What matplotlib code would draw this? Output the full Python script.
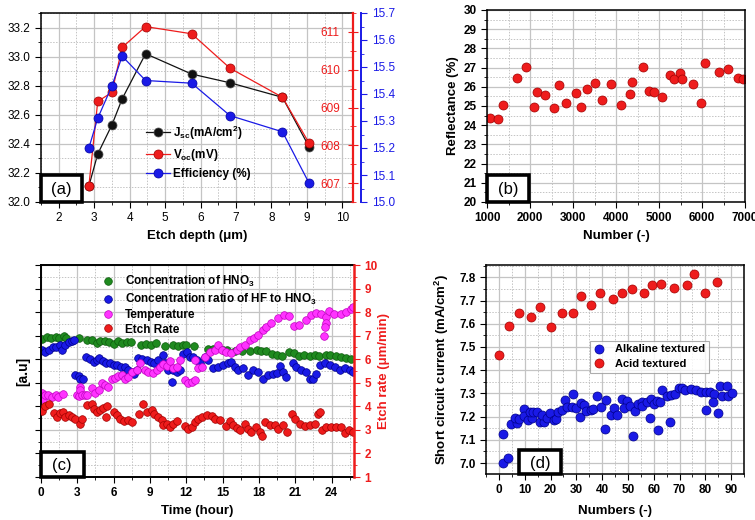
import matplotlib
matplotlib.use("Agg")
import matplotlib.pyplot as plt
from matplotlib.patches import Rectangle
from matplotlib.ticker import MultipleLocator
import numpy as np

plt.rcParams['font.family'] = ['Liberation Sans', 'DejaVu Sans']
plt.rcParams['mathtext.fontset'] = 'custom'
plt.rcParams['mathtext.rm'] = 'Liberation Sans'
plt.rcParams['mathtext.bf'] = 'Liberation Sans:bold'
plt.rcParams['mathtext.default'] = 'bf'

# ---------------- data (a) ----------------
depth = [2.85, 3.1, 3.5, 3.79, 4.45, 5.75, 6.83, 8.31, 9.06]
jsc = [32.11, 32.33, 32.53, 32.71, 33.02, 32.88, 32.82, 32.72, 32.38]
voc = [606.92, 609.16, 609.40, 610.59, 611.14, 610.95, 610.04, 609.27, 608.06]
eff = [15.20, 15.31, 15.43, 15.54, 15.45, 15.44, 15.32, 15.26, 15.07]

# ---------------- data (b) ----------------
number_b = [1077, 1263, 1372, 1689, 1906, 2099, 2161, 2347, 2563, 2680, 2834, 3059,
            3183, 3314, 3500, 3663, 3879, 4111, 4320, 4367, 4622, 4777, 4878, 5063,
            5265, 5350, 5480, 5542, 5798, 5975, 6061, 6393, 6602, 6834, 6942]
reflect = [24.37, 24.33, 25.06, 26.45, 27.04, 24.97, 25.75, 25.55, 24.92, 26.08, 25.15, 25.70,
           24.94, 25.86, 26.22, 25.30, 26.13, 25.06, 25.65, 26.26, 27.05, 25.79, 25.72, 25.49,
           26.64, 26.43, 26.71, 26.43, 26.15, 25.15, 27.23, 26.79, 26.92, 26.48, 26.43]

# ---------------- data (c) ----------------
hno3_t = [0.1, 0.5, 0.8, 1.2, 1.5, 1.9, 2.1, 3.1, 3.8, 4.2, 4.6, 4.9, 5.3, 5.6, 6.0,
          6.4, 6.7, 7.1, 7.4, 8.3, 8.7, 9.1, 9.5, 10.2, 10.9, 11.3, 11.7, 12.0, 12.6, 13.8,
          14.2, 15.0, 15.4, 16.0, 16.6, 17.3, 17.8, 18.2, 18.6, 19.1, 19.5, 19.9, 20.5, 20.9,
          21.3, 21.7, 22.2, 22.6, 23.0, 23.5, 23.9, 24.4, 24.8, 25.2, 25.6]
hno3_v = [6.85, 6.95, 6.88, 6.95, 6.92, 7.0, 6.92, 6.92, 6.8, 6.82, 6.7, 6.78, 6.78, 6.74, 6.65,
          6.78, 6.68, 6.72, 6.72, 6.62, 6.65, 6.6, 6.68, 6.55, 6.6, 6.55, 6.6, 6.6, 6.55, 6.45,
          6.45, 6.4, 6.4, 6.35, 6.35, 6.35, 6.4, 6.35, 6.35, 6.22, 6.2, 6.15, 6.3, 6.28,
          6.15, 6.17, 6.15, 6.18, 6.15, 6.18, 6.2, 6.15, 6.1, 6.05, 6.0]

ratio_t = [0.1, 0.36, 0.63, 0.99, 1.26, 1.54, 1.73, 2.0, 2.28, 2.55, 2.75,
           2.83, 3.1, 3.24, 3.46,
           3.73, 4.06, 4.39, 4.61, 4.83, 5.11, 5.38, 5.71, 5.99, 6.26, 6.59, 6.95, 7.22, 7.50, 7.69,
           7.91, 8.04, 8.32, 8.73, 9.06, 9.34, 9.69, 10.05, 10.24, 10.52, 10.79, 10.93, 11.20, 11.48,
           11.75, 12.03, 12.30, 12.58, 12.85, 13.12, 13.54, 13.81, 14.22, 14.63, 15.05, 15.46, 15.73,
           16.01, 16.28, 16.69, 17.11, 17.52, 17.93, 18.34, 18.75, 19.17, 19.49, 19.71, 19.99, 20.26,
           20.81, 21.09, 21.50, 21.91, 22.19, 22.46, 22.73, 23.06, 23.42, 23.83, 24.24, 24.66, 25.07,
           25.48, 25.75]
ratio_v = [6.39, 6.31, 6.39, 6.50, 6.53, 6.60, 6.41, 6.60, 6.74, 6.78, 6.81,
           5.32, 5.28, 5.18, 5.18,
           6.10, 6.03, 5.89, 5.96, 6.07, 5.93, 5.82, 5.85, 5.75, 5.75, 5.68, 5.65, 5.54, 5.46, 5.37,
           5.54, 6.07, 6.03, 5.96, 5.89, 5.82, 5.96, 6.17, 5.82, 5.54, 5.04, 5.54, 5.46, 5.54,
           6.22, 6.31, 6.10, 6.10, 5.96, 5.82, 6.10, 5.96, 5.61, 5.68, 5.75, 5.82, 5.89,
           5.68, 5.54, 5.61, 5.32, 5.54, 5.46, 5.18, 5.32, 5.39, 5.42, 5.71, 5.46, 5.25,
           5.82, 5.68, 5.54, 5.46, 5.18, 5.18, 5.39, 5.75, 5.82, 5.75, 5.68, 5.54, 5.61,
           5.54, 5.46]

temp_t = [0.1, 0.2, 0.36, 0.6, 0.9, 1.2, 1.43, 1.84,
          3.0, 3.1, 3.2, 3.24, 3.38, 3.65, 3.84,
          4.2, 4.48, 4.75, 5.02, 5.30, 5.57, 5.85, 6.12, 6.40, 6.67, 6.95, 7.22, 7.50, 7.91, 8.18,
          8.59, 8.87, 9.28, 9.56, 9.83, 10.1, 10.38, 10.65, 10.93, 11.2, 11.48, 11.89, 12.16, 12.44,
          12.71, 12.71, 12.99, 13.26, 13.54, 13.95, 14.36, 14.63, 14.91, 15.32, 15.73, 16.15, 16.42,
          16.83, 17.24, 17.6, 17.9, 18.3, 18.6, 19.0, 19.55, 20.1, 20.5, 20.9, 21.3, 21.9, 22.3,
          22.7, 23.1, 23.5, 23.5, 23.45, 23.4, 23.8, 24.2, 24.8, 25.2, 25.6, 25.8]
temp_v = [4.57, 4.30, 4.47, 4.47, 4.40, 4.47, 4.40, 4.51,
          4.47, 4.43, 4.83, 4.68, 4.47, 4.47, 4.47,
          4.76, 4.57, 4.71, 4.97, 4.90, 4.80, 5.18, 5.22, 5.28, 5.32, 5.18, 5.25, 5.46, 5.54, 5.82,
          5.54, 5.46, 5.42, 5.54, 5.68, 5.79, 5.71, 5.93, 5.61, 5.68, 5.96, 5.11, 4.97, 5.04,
          5.11, 5.96, 5.61, 5.68, 6.10, 6.31, 6.39, 6.60, 6.39, 6.31, 6.27, 6.39, 6.53,
          6.60, 6.81, 6.88, 7.02, 7.24, 7.38, 7.52, 7.73, 7.87, 7.83, 7.41, 7.45, 7.66, 7.87,
          7.97, 7.94, 7.80, 7.55, 7.35, 6.98, 8.06, 7.94, 7.94, 8.01, 8.15, 8.20]

etch_t = [0.08, 0.36, 0.63, 1.04, 1.32, 1.54, 1.8, 2.0, 2.28, 2.55, 2.83, 3.19, 3.38,
          3.79, 4.2, 4.39, 4.61, 4.89, 5.16, 5.44, 5.38, 5.99, 6.26, 6.53, 6.86, 7.22, 7.50,
          8.13, 8.40, 8.73, 9.14, 9.34, 9.69, 9.97, 10.1, 10.38, 10.65, 10.93, 11.2,
          11.89, 12.16, 12.44, 12.71, 12.99, 13.26, 13.67, 14.09, 14.36, 14.77,
          15.32, 15.6, 15.87, 16.15, 16.42, 16.83, 17.11, 17.38, 17.79, 18.07, 18.26, 18.48,
          18.89, 19.3, 19.58, 19.99, 20.32, 20.76, 20.95, 21.36, 21.77, 22.19, 22.6, 22.87,
          23.06, 23.23, 23.56, 23.97, 24.38, 24.79, 25.07, 25.43, 25.75]
etch_v = [3.79, 4.0, 4.09, 3.72, 3.55, 3.72, 3.76, 3.55, 3.62, 3.55, 3.48, 3.27, 3.48,
          4.05, 4.12, 3.9, 3.76, 3.83, 3.95, 4.0, 3.55, 3.76, 3.62, 3.48, 3.38, 3.41, 3.34,
          3.69, 4.12, 3.76, 3.83, 3.66, 3.55, 3.41, 3.20, 3.27, 3.13, 3.24, 3.38,
          3.15, 3.05, 3.13, 3.34, 3.48, 3.55, 3.62, 3.59, 3.48, 3.41,
          3.15, 3.38, 3.2, 3.1, 2.98, 3.27, 3.05, 2.91, 3.13, 2.91, 2.73, 3.34,
          3.2, 3.2, 3.05, 3.2, 2.91, 3.69, 3.48, 3.24, 3.15, 3.2, 3.27, 3.66,
          3.76, 2.98, 3.13, 3.13, 3.13, 3.13, 2.87, 2.98, 2.91]

# ---------------- data (d) ----------------
acid_n = [0.1, 3.9, 7.6, 12.5, 15.9, 20.2, 24.4, 28.6, 31.8, 35.7, 39.3, 44.3, 47.8, 51.7,
          56.1, 59.3, 63.0, 68.0, 72.9, 75.5, 79.7, 84.4]
acid_isc = [7.467, 7.589, 7.645, 7.628, 7.670, 7.586, 7.648, 7.645, 7.721, 7.680, 7.734, 7.708,
            7.731, 7.750, 7.734, 7.766, 7.770, 7.754, 7.767, 7.816, 7.731, 7.781]
alk_n = [1.4, 3.5, 1.4, 4.7, 7.0, 6.3, 7.8, 9.6, 9.6, 11.1, 12.7, 12.0, 13.4, 14.9, 16.0, 17.6,
         16.8, 18.5, 19.8, 21.2, 22.2, 23.0, 24.4, 25.7, 26.5, 28.6, 28.3, 29.8, 31.4, 31.9, 33.1,
         33.9, 35.6, 36.3, 38.1, 39.4, 41.2, 41.7, 43.3, 44.7, 45.9, 47.7, 49.6, 48.4, 51.0,
         52.6, 52.1, 53.9, 55.6, 55.6, 57.4, 59.0, 58.4, 60.3, 61.1, 62.5, 61.6, 63.2, 65.0, 66.4,
         66.8, 68.1, 69.9, 71.0, 72.2, 74.4, 76.4, 78.2, 80.2, 80.1, 81.9, 83.4, 83.1, 85.0, 85.7,
         86.4, 88.4, 88.9, 90.4]
alk_isc = [7.000, 7.024, 7.125, 7.168, 7.172, 7.196, 7.189, 7.234, 7.201, 7.186, 7.193, 7.222,
           7.222, 7.219, 7.179, 7.176, 7.208, 7.196, 7.215, 7.186, 7.190, 7.222, 7.229, 7.272,
           7.243, 7.298, 7.241, 7.238, 7.200, 7.258, 7.252, 7.226, 7.229, 7.235, 7.290, 7.240,
           7.146, 7.272, 7.205, 7.237, 7.208, 7.275, 7.269, 7.237, 7.246, 7.225, 7.116, 7.255,
           7.262, 7.247, 7.265, 7.277, 7.193, 7.254, 7.269, 7.261, 7.143, 7.315, 7.289, 7.176,
           7.292, 7.298, 7.323, 7.324, 7.315, 7.321, 7.315, 7.308, 7.308, 7.229, 7.304, 7.298,
           7.261, 7.215, 7.334, 7.287, 7.334, 7.288, 7.302]

BLACK = '#111111'
RED = '#ee1c1c'
BLUE = '#1a1ae6'
GREEN = '#1f8a1f'
MAG = '#ff33ff'
GRIDC = '#c4c4c4'

fig = plt.figure(figsize=(7.55, 5.2), dpi=100)
W, H = 755.0, 520.0


def add_ax(l, r, t, b):
    return fig.add_axes([l / W, 1 - b / H, (r - l) / W, (b - t) / H])


def style_grid(ax):
    ax.set_axisbelow(True)
    ax.grid(True, which='major', color=GRIDC, lw=0.9, ls='-')
    ax.grid(True, which='minor', color=GRIDC, lw=0.7, ls=(0, (1.5, 1.5)))


def label_box(ax, x0, y0, w, h, text):
    r = Rectangle((x0, y0), w, h, transform=ax.transAxes, facecolor='white',
                  edgecolor='black', lw=2.6, zorder=20, clip_on=False)
    ax.add_patch(r)
    ax.text(x0 + w / 2, y0 + h / 2 - 0.005, text, transform=ax.transAxes, ha='center',
            va='center', fontsize=12, zorder=21)


ms_kw = dict(marker='o', markeredgewidth=0.5)

# ================= panel (a) =================
ax = add_ax(41, 353, 13, 202)
ax.set_xlim(1.5, 10.3)
ax.set_ylim(32.0, 33.3)
ax.xaxis.set_major_locator(MultipleLocator(1))
ax.xaxis.set_minor_locator(MultipleLocator(0.5))
ax.yaxis.set_major_locator(MultipleLocator(0.2))
ax.yaxis.set_minor_locator(MultipleLocator(0.1))
ax.yaxis.set_major_formatter(matplotlib.ticker.FormatStrFormatter('%.1f'))
style_grid(ax)
ax.tick_params(which='both', direction='out', labelsize=8.5, top=False, right=False)
ax.tick_params(which='major', length=4)
ax.tick_params(which='minor', length=2)
for s in ['left', 'bottom', 'top']:
    ax.spines[s].set_linewidth(1.1)
ax.spines['right'].set_visible(False)
l1, = ax.plot(depth, jsc, color=BLACK, lw=0.9, ms=6.5, mfc=BLACK, mec='#555555',
              label='J$_{sc}$(mA/cm$^2$)', **ms_kw)
ax.set_xlabel('Etch depth (μm)', fontsize=9.5, fontweight='bold', labelpad=4)

axr = ax.twinx()
axr.set_ylim(606.5, 611.5)
axr.yaxis.set_major_locator(MultipleLocator(1))
axr.yaxis.set_minor_locator(MultipleLocator(0.5))
axr.tick_params(axis='y', which='both', direction='inout', colors=RED, labelsize=8.5)
axr.tick_params(axis='y', which='major', length=7, pad=-13)
axr.tick_params(axis='y', which='minor', length=4)
plt.setp(axr.get_yticklabels(), ha='right')
axr.spines['right'].set_color(RED)
axr.spines['right'].set_linewidth(1.6)
for s in ['left', 'top', 'bottom']:
    axr.spines[s].set_visible(False)
l2, = axr.plot(depth, voc, color=RED, lw=0.9, ms=6.5, mfc=RED, mec='#a00000',
               label='V$_{oc}$(mV)', **ms_kw)

axb = ax.twinx()
axb.set_ylim(15.0, 15.7)
axb.spines['right'].set_position(('outward', 6))
axb.yaxis.set_major_locator(MultipleLocator(0.1))
axb.yaxis.set_minor_locator(MultipleLocator(0.05))
axb.yaxis.set_major_formatter(matplotlib.ticker.FormatStrFormatter('%.1f'))
axb.tick_params(axis='y', which='both', direction='out', colors=BLUE, labelsize=8.5)
axb.tick_params(axis='y', which='major', length=4)
axb.tick_params(axis='y', which='minor', length=2)
axb.spines['right'].set_color(BLUE)
axb.spines['right'].set_linewidth(1.4)
for s in ['left', 'top', 'bottom']:
    axb.spines[s].set_visible(False)
l3, = axb.plot(depth, eff, color=BLUE, lw=0.9, ms=6.5, mfc=BLUE, mec='#0000a0',
               label='Efficiency (%)', **ms_kw)
axb.legend(handles=[l1, l2, l3], loc='upper left', bbox_to_anchor=(0.31, 0.46),
           frameon=False, prop={'weight': 'bold', 'size': 8.5}, handlelength=2.0,
           handletextpad=0.3, labelspacing=0.45, borderpad=0.2)
label_box(axb, 0.0, 0.0, 0.133, 0.143, '(a)')

# ================= panel (b) =================
ax = add_ax(487, 745, 10, 202)
ax.set_xlim(1000, 7000)
ax.set_ylim(20, 30)
ax.xaxis.set_major_locator(MultipleLocator(1000))
ax.xaxis.set_minor_locator(MultipleLocator(500))
ax.yaxis.set_major_locator(MultipleLocator(1))
ax.yaxis.set_minor_locator(MultipleLocator(0.5))
style_grid(ax)
ax.tick_params(which='both', direction='out', labelsize=8.5, top=False, right=False)
ax.tick_params(which='major', length=4)
ax.tick_params(which='minor', length=2)
for lab in ax.get_xticklabels() + ax.get_yticklabels():
    lab.set_fontweight('bold')
for s in ax.spines.values():
    s.set_linewidth(1.1)
ax.plot(number_b, reflect, ls='none', ms=6.5, mfc=RED, mec='#a00000', **ms_kw)
ax.set_xlabel('Number (-)', fontsize=9.5, fontweight='bold', labelpad=4)
ax.set_ylabel('Reflectance (%)', fontsize=9.5, fontweight='bold', labelpad=3)
label_box(ax, 0.0, 0.0, 0.162, 0.141, '(b)')

# ================= panel (c) =================
ax = add_ax(41, 354, 265, 477)
ax.set_xlim(0, 25.85)
ax.set_ylim(1, 10)
ax.xaxis.set_major_locator(MultipleLocator(3))
ax.xaxis.set_minor_locator(MultipleLocator(1.5))
ax.yaxis.set_major_locator(MultipleLocator(1))
ax.yaxis.set_minor_locator(MultipleLocator(0.5))
style_grid(ax)
ax.tick_params(which='both', direction='out', labelsize=8.5, top=False, right=False)
ax.tick_params(axis='y', which='both', labelleft=False)
ax.tick_params(which='major', length=4)
ax.tick_params(which='minor', length=2)
for lab in ax.get_xticklabels():
    lab.set_fontweight('bold')
for s in ['left', 'bottom', 'top']:
    ax.spines[s].set_linewidth(1.4)
ax.spines['right'].set_visible(False)
ms_c = 5.5
h1, = ax.plot(hno3_t, hno3_v, ls='none', ms=ms_c, mfc=GREEN, mec='#0d5a0d',
              label='Concentration of HNO$_3$', **ms_kw)
h2, = ax.plot(ratio_t, ratio_v, ls='none', ms=ms_c, mfc=BLUE, mec='#00008a',
              label='Concentration ratio of HF to HNO$_3$', **ms_kw)
h3, = ax.plot(temp_t, temp_v, ls='none', ms=ms_c, mfc=MAG, mec='#c000c0',
              label='Temperature', **ms_kw)
ax.set_xlabel('Time (hour)', fontsize=9.5, fontweight='bold', labelpad=4)
ax.set_ylabel('[a.u]', fontsize=10, fontweight='bold', labelpad=4)

axr = ax.twinx()
axr.set_ylim(1, 10)
axr.yaxis.set_major_locator(MultipleLocator(1))
axr.yaxis.set_minor_locator(MultipleLocator(0.5))
axr.tick_params(axis='y', which='both', direction='out', colors=RED, labelsize=8.5)
axr.tick_params(axis='y', which='major', length=4)
axr.tick_params(axis='y', which='minor', length=2)
for lab in axr.get_yticklabels():
    lab.set_fontweight('bold')
axr.spines['right'].set_color(RED)
axr.spines['right'].set_linewidth(1.8)
for s in ['left', 'top', 'bottom']:
    axr.spines[s].set_visible(False)
h4, = axr.plot(etch_t, etch_v, ls='none', ms=ms_c, mfc=RED, mec='#a00000',
               label='Etch Rate', **ms_kw)
axr.set_ylabel('Etch rate (μm/min)', fontsize=9.5, fontweight='bold', color=RED, labelpad=0)
axr.legend(handles=[h1, h2, h3, h4], loc='upper left', bbox_to_anchor=(0.17, 0.995),
           frameon=False, prop={'weight': 'bold', 'size': 8.5}, handlelength=1.0,
           handletextpad=0.9, labelspacing=0.2, borderpad=0.2, markerscale=1.0)
label_box(axr, 0.0, 0.0, 0.136, 0.118, '(c)')

# ================= panel (d) =================
ax = add_ax(486, 744, 265, 474)
ax.set_xlim(-5, 95)
ax.set_ylim(6.953, 7.853)
ax.xaxis.set_major_locator(MultipleLocator(10))
ax.xaxis.set_minor_locator(MultipleLocator(5))
ax.yaxis.set_major_locator(MultipleLocator(0.1))
ax.yaxis.set_minor_locator(MultipleLocator(0.05))
ax.yaxis.set_major_formatter(matplotlib.ticker.FormatStrFormatter('%.1f'))
style_grid(ax)
ax.tick_params(which='both', direction='out', labelsize=8.5, top=False, right=False)
ax.tick_params(which='major', length=4)
ax.tick_params(which='minor', length=2)
for lab in ax.get_xticklabels() + ax.get_yticklabels():
    lab.set_fontweight('bold')
for s in ax.spines.values():
    s.set_linewidth(1.1)
d1, = ax.plot(alk_n, alk_isc, ls='none', ms=6.5, mfc=BLUE, mec='#00008a',
              label='Alkaline textured', **ms_kw)
d2, = ax.plot(acid_n, acid_isc, ls='none', ms=6.5, mfc=RED, mec='#a00000',
              label='Acid textured', **ms_kw)
ax.set_xlabel('Numbers (-)', fontsize=9.5, fontweight='bold', labelpad=6)
ax.set_ylabel('Short circuit current (mA/cm$^2$)', fontsize=9.5, fontweight='bold', labelpad=6)
leg = ax.legend(handles=[d1, d2], loc='upper left', bbox_to_anchor=(0.38, 0.665),
                frameon=True, fancybox=False, prop={'weight': 'bold', 'size': 8},
                handlelength=1.0, handletextpad=0.9, labelspacing=0.4, borderpad=0.35)
leg.get_frame().set_edgecolor('#999999')
leg.get_frame().set_linewidth(0.8)
label_box(ax, 0.128, 0.0, 0.162, 0.115, '(d)')

fig.savefig('out.png', dpi=100)
